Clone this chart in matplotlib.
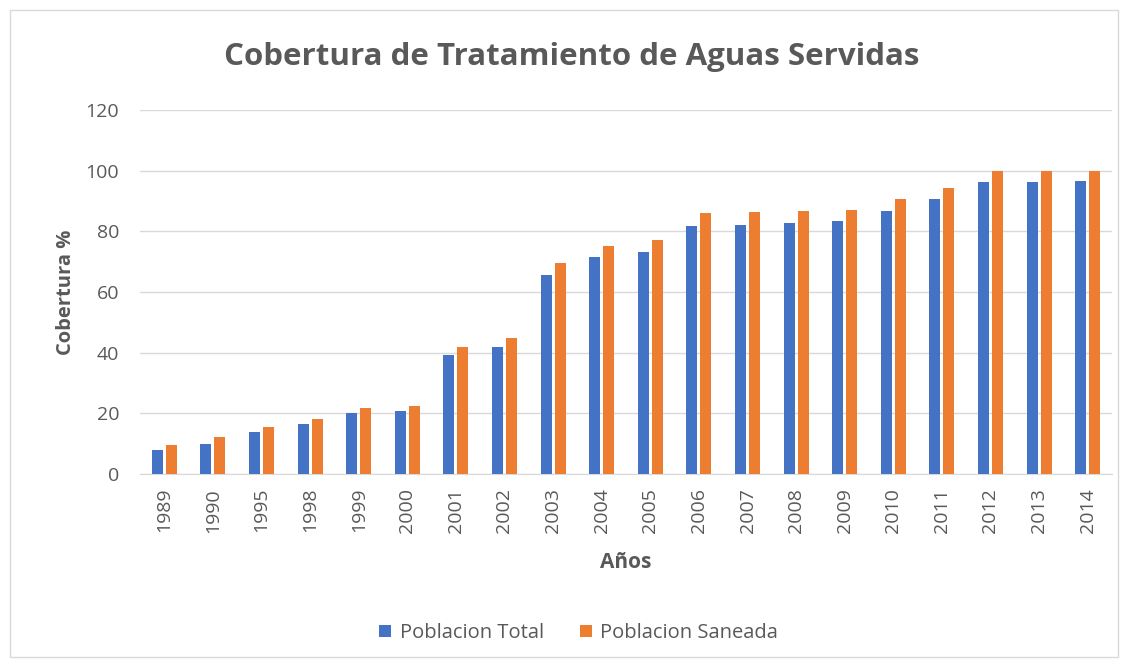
import matplotlib.pyplot as plt
import numpy as np
from matplotlib.patches import Rectangle

plt.rcParams['font.family'] = ['Open Sans', 'DejaVu Sans']

years = ['1989', '1990', '1995', '1998', '1999', '2000', '2001', '2002', '2003', '2004',
         '2005', '2006', '2007', '2008', '2009', '2010', '2011', '2012', '2013', '2014']
total = [8.0, 9.9, 13.9, 16.6, 20.1, 20.8, 39.3, 42.0, 65.7, 71.5,
         73.3, 81.8, 82.2, 82.6, 83.3, 86.8, 90.6, 96.1, 96.4, 96.7]
saneada = [9.6, 12.2, 15.6, 18.1, 21.9, 22.3, 42.0, 44.7, 69.5, 75.3,
           77.1, 85.9, 86.5, 86.6, 87.1, 90.6, 94.2, 100, 100, 100]

fig = plt.figure(figsize=(11.28, 6.67), dpi=100)
fig.patches.append(Rectangle((10/1128, 10/667), 1108/1128, 647/667, transform=fig.transFigure,
                             fill=False, edgecolor='#d9d9d9', linewidth=1))
ax = fig.add_axes([140/1128, 1 - 474/667, 972/1128, 364/667])

x = np.arange(len(years))
w = 0.225
ax.bar(x - 0.145, total, w, color='#4472c4', label='Poblacion Total', zorder=3)
ax.bar(x + 0.145, saneada, w, color='#ed7d31', label='Poblacion Saneada', zorder=3)

ax.set_xlim(-0.5, len(years) - 0.5)
ax.set_ylim(0, 120)
ax.set_yticks(range(0, 121, 20))
ax.set_xticks(x)
ax.set_xticklabels(years, rotation=90)
ax.yaxis.grid(True, color='#d9d9d9', linewidth=1, zorder=0)
for s in ['top', 'right', 'left']:
    ax.spines[s].set_visible(False)
ax.spines['bottom'].set_color('#d9d9d9')
ax.tick_params(axis='both', length=0, labelsize=14, colors='#595959')
ax.tick_params(axis='y', pad=15)
ax.tick_params(axis='x', pad=10)

ax.set_xlabel('Años', fontsize=15, fontweight='bold', color='#595959', labelpad=14)
ax.set_ylabel('Cobertura %', fontsize=14.5, fontweight='bold', color='#595959', labelpad=7)
fig.text(0.507, 1 - 57/667, 'Cobertura de Tratamiento de Aguas Servidas', ha='center', va='center',
         fontsize=22.5, fontweight='bold', color='#595959')

fig.legend(loc='center', bbox_to_anchor=(0.513, 1 - 633/667), ncol=2, frameon=False,
           fontsize=14.5, labelcolor='#595959', handlelength=0.6, handleheight=0.6,
           columnspacing=1.8, handletextpad=0.4)

fig.savefig('out.png', dpi=100)
